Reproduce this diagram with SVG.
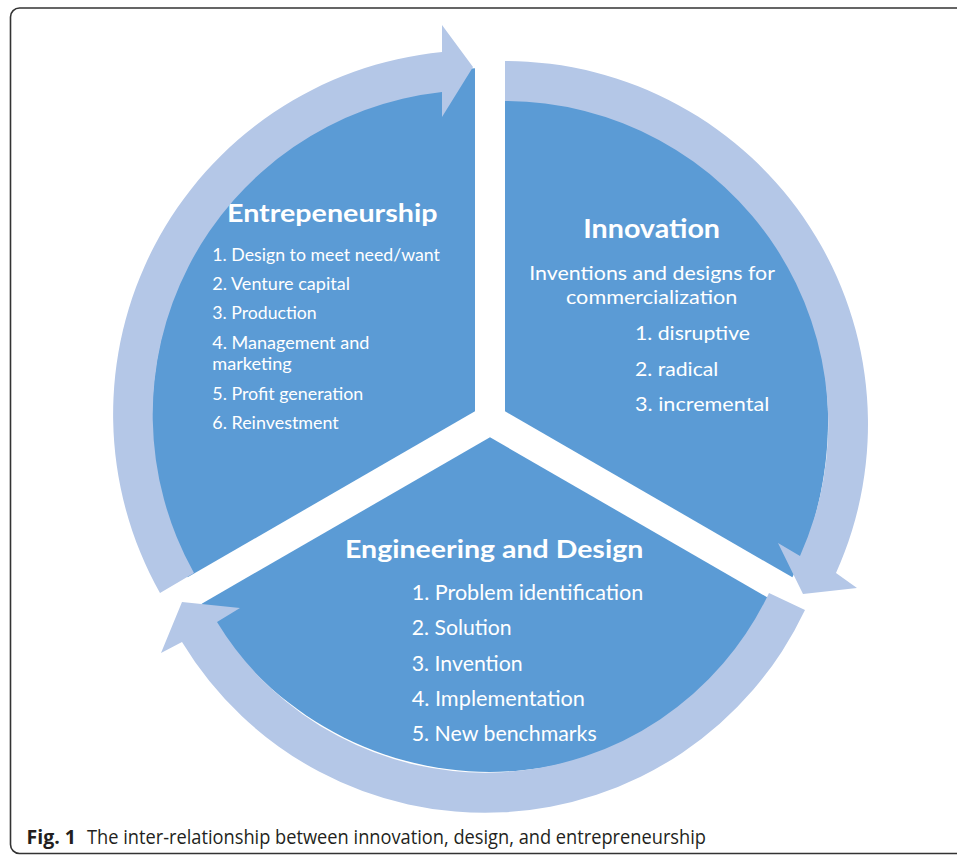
<svg xmlns="http://www.w3.org/2000/svg" width="957" height="856" viewBox="0 0 957 856">
  <style>
    .wedge { fill: #5B9BD5; }
    .arrow { fill: #B4C7E7; }
    .t { fill: #FFFFFF; font-family: Lato, "Open Sans", "Liberation Sans", sans-serif; }
    .title { font-weight: bold; }
    .cap { fill: #231F20; font-family: "Open Sans", "Noto Sans", "Liberation Sans", sans-serif; font-size: 19.5px; }
  </style>
  <rect x="0" y="0" width="957" height="856" fill="#FFFFFF"/>
  <rect x="10.5" y="8" width="980" height="845.5" rx="9" ry="9" fill="none" stroke="#333333" stroke-width="1.6"/>

  <g id="node-entrepreneurship">
    <path class="wedge" d="M475,411.3 L475,68.3 A338,352 0 0,0 187.6,577.3 Z"/>
    <text class="t title" x="227" y="221.7" font-size="25" textLength="210.5" lengthAdjust="spacingAndGlyphs">Entrepeneurship</text>
    <g font-size="16.5">
      <text class="t" x="212.3" y="260.5" textLength="227.7" lengthAdjust="spacingAndGlyphs">1. Design to meet need/want</text>
      <text class="t" x="212.3" y="290" textLength="137.7" lengthAdjust="spacingAndGlyphs">2. Venture capital</text>
      <text class="t" x="212.3" y="319.3" textLength="104.4" lengthAdjust="spacingAndGlyphs">3. Production</text>
      <text class="t" x="212.3" y="349" textLength="157" lengthAdjust="spacingAndGlyphs">4. Management and</text>
      <text class="t" x="212.3" y="370" textLength="79.4" lengthAdjust="spacingAndGlyphs">marketing</text>
      <text class="t" x="212.3" y="400" textLength="151" lengthAdjust="spacingAndGlyphs">5. Profit generation</text>
      <text class="t" x="212.3" y="429.3" textLength="126.5" lengthAdjust="spacingAndGlyphs">6. Reinvestment</text>
    </g>
  </g>

  <g id="node-innovation">
    <path class="wedge" d="M505,411.3 L505,68.3 A338,352 0 0,1 792.4,577.3 Z"/>
    <text class="t title" x="583.3" y="238.3" font-size="26.5" textLength="136.7" lengthAdjust="spacingAndGlyphs">Innovation</text>
    <g font-size="20">
      <text class="t" x="529.3" y="280" textLength="245.7" lengthAdjust="spacingAndGlyphs">Inventions and designs for</text>
      <text class="t" x="566" y="304" textLength="171.3" lengthAdjust="spacingAndGlyphs">commercialization</text>
      <text class="t" x="635" y="340" textLength="115" lengthAdjust="spacingAndGlyphs">1. disruptive</text>
      <text class="t" x="635" y="375.7" textLength="83.3" lengthAdjust="spacingAndGlyphs">2. radical</text>
      <text class="t" x="635" y="411" textLength="134.3" lengthAdjust="spacingAndGlyphs">3. incremental</text>
    </g>
  </g>

  <g id="node-engineering-design">
    <path class="wedge" d="M490,437.3 L778.3,603.7 A338,352 0 0,1 201.7,603.7 Z"/>
    <text class="t title" x="345" y="558.3" font-size="25" textLength="298.3" lengthAdjust="spacingAndGlyphs">Engineering and Design</text>
    <g font-size="21">
      <text class="t" x="411.7" y="600" textLength="231.6" lengthAdjust="spacingAndGlyphs">1. Problem identification</text>
      <text class="t" x="411.7" y="635.3" textLength="100" lengthAdjust="spacingAndGlyphs">2. Solution</text>
      <text class="t" x="411.7" y="670.7" textLength="111" lengthAdjust="spacingAndGlyphs">3. Invention</text>
      <text class="t" x="411.7" y="705.7" textLength="173.3" lengthAdjust="spacingAndGlyphs">4. Implementation</text>
      <text class="t" x="411.7" y="740.7" textLength="185" lengthAdjust="spacingAndGlyphs">5. New benchmarks</text>
    </g>
  </g>

  <g id="connectors">
    <path class="arrow" d="M160,593 A364,364 0 0,1 442,52 L442,25 L473,67 L442,117 L442,92 A324.5,324.5 0 0,0 194,573 Z"/>
    <path class="arrow" d="M505,61 A363,363 0 0,1 836,573 L857,588 L803,594 L778,543 L800,556 A323,323 0 0,0 505,101 Z"/>
    <path class="arrow" d="M805,610 A354,354 0 0,1 182,642 L161,653 L182,602 L240,608 L217,622 A314,314 0 0,0 769,593 Z"/>
  </g>

  <g id="caption">
    <text class="cap" x="26.5" y="844" font-weight="bold" textLength="49.5" lengthAdjust="spacingAndGlyphs">Fig. 1</text>
    <text class="cap" x="87" y="844" textLength="619" lengthAdjust="spacingAndGlyphs">The inter-relationship between innovation, design, and entrepreneurship</text>
  </g>
</svg>
